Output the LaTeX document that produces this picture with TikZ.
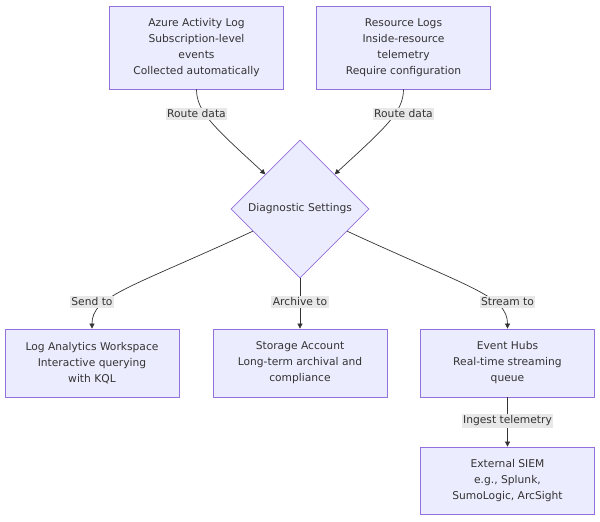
\documentclass[tikz,border=0pt]{standalone}
\usepackage{fontspec}
\setmainfont{DejaVu Sans}
\usetikzlibrary{shapes.geometric,calc,arrows.meta}

\definecolor{boxfill}{HTML}{ECECFF}
\definecolor{boxline}{HTML}{9370DB}
\definecolor{edgecol}{HTML}{333333}
\definecolor{lblfill}{HTML}{E8E8E8}

\begin{document}
\begin{tikzpicture}[x=1pt,y=-1pt,
    font=\fontsize{10.7}{16}\selectfont, text=edgecol,
    box/.style={draw=boxline, fill=boxfill, line width=0.8pt, align=center, inner sep=0pt, minimum width=174pt},
    edgelabel/.style={fill=lblfill, inner sep=1.5pt},
    flow/.style={draw=edgecol, line width=0.7pt, -{Triangle[length=5pt,width=5pt]}}]
    \useasboundingbox (0,0) rectangle (600,522);

    % Define the nodes
    \node[box, minimum height=83pt] (azure) at (196.5,47.5) {Azure Activity Log\\Subscription-level\\events\\Collected automatically};
    \node[box, minimum height=83pt] (res) at (403.5,47.5) {Resource Logs\\Inside-resource\\telemetry\\Require configuration};
    \node[diamond, aspect=1, draw=boxline, fill=boxfill, line width=0.8pt, inner sep=0pt, minimum width=138pt, minimum height=138pt] (diag) at (300,209) {Diagnostic Settings};
    \node[box, minimum height=68pt] (log) at (92,363) {Log Analytics Workspace\\Interactive querying\\with KQL};
    \node[box, minimum height=68pt] (store) at (300,363) {Storage Account\\Long-term archival and\\compliance};
    \node[box, minimum height=68pt] (hub) at (507.5,363) {Event Hubs\\Real-time streaming\\queue};
    \node[box, minimum height=67pt] (siem) at (507.5,480.5) {External SIEM\\e.g., Splunk,\\SumoLogic, ArcSight};

    % Draw the connectors
    \draw[flow] (azure.south) .. controls (196.5,112) and (215,128) .. (diag.north west);
    \draw[flow] (res.south) .. controls (403.5,112) and (385,128) .. (diag.north east);
    \draw[flow] ($(diag.west)!0.32!(diag.south)$) .. controls (130,288) and (92,296) .. (log.north);
    \draw[flow] (diag.south) -- (store.north);
    \draw[flow] ($(diag.east)!0.32!(diag.south)$) .. controls (470,288) and (507.5,296) .. (hub.north);
    \draw[flow] (hub.south) -- (siem.north);

    % Place the edge labels
    \node[edgelabel] (l1) at (196.5,114) {Route data};
    \node[edgelabel] (l2) at (403.5,114) {Route data};
    \node[edgelabel] (l3) at (92,302) {Send to};
    \node[edgelabel] (l4) at (300,302) {Archive to};
    \node[edgelabel] (l5) at (507.5,302) {Stream to};
    \node[edgelabel] (l6) at (507.5,421) {Ingest telemetry};

\end{tikzpicture}
\end{document}
